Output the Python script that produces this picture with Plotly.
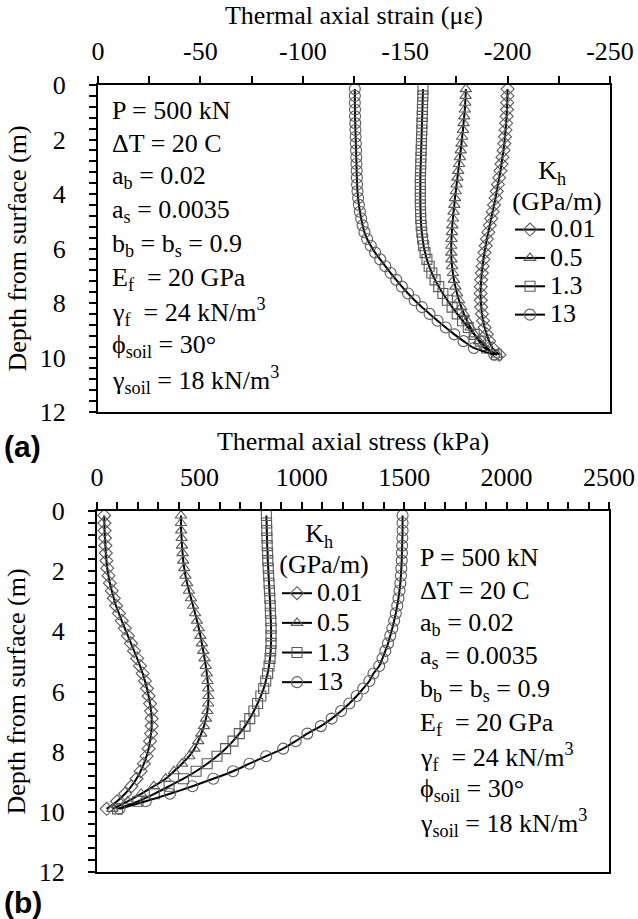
import plotly.graph_objects as go

W, H = 638, 919
SERIF = "Liberation Serif"
SANS = "Liberation Sans"

# ---------------- data ----------------
depth = [0.15, 0.40, 0.65, 0.90, 1.15, 1.40, 1.65, 1.90, 2.15, 2.40,
         2.65, 2.90, 3.15, 3.40, 3.65, 3.90, 4.15, 4.40, 4.65, 4.90,
         5.15, 5.40, 5.65, 5.90, 6.15, 6.40, 6.65, 6.90, 7.15, 7.40,
         7.65, 7.90, 8.15, 8.40, 8.65, 8.90, 9.15, 9.40, 9.65, 9.90]

kh_labels = ["0.01", "0.5", "1.3", "13"]

# thermal axial strain (micro-strain), panel (a)
strain_001 = [-200.0, -199.9, -199.8, -199.7, -199.5, -199.3, -199.0, -198.7, -198.4, -198.0,
              -197.5, -197.0, -196.5, -195.9, -195.3, -194.7, -194.1, -193.4, -192.7, -192.0,
              -191.3, -190.6, -189.9, -189.3, -188.7, -188.2, -187.8, -187.4, -187.1, -186.9,
              -186.8, -186.9, -187.1, -187.5, -188.0, -188.8, -189.8, -191.0, -192.6, -196.0]
strain_05 = [-179.6, -179.5, -179.3, -179.1, -178.8, -178.5, -178.2, -177.8, -177.5, -177.1,
             -176.7, -176.3, -175.9, -175.5, -175.1, -174.7, -174.3, -174.0, -173.6, -173.3,
             -173.0, -172.8, -172.6, -172.5, -172.5, -172.6, -172.9, -173.3, -173.8, -174.5,
             -175.3, -176.3, -177.4, -178.7, -180.2, -181.9, -183.8, -186.0, -188.7, -195.0]
strain_13 = [-158.7, -158.6, -158.5, -158.4, -158.3, -158.2, -158.1, -158.0, -157.9, -157.8,
             -157.7, -157.6, -157.5, -157.4, -157.4, -157.4, -157.4, -157.4, -157.5, -157.6,
             -157.8, -158.1, -158.5, -159.0, -159.7, -160.6, -161.7, -163.0, -164.6, -166.4,
             -168.4, -170.6, -172.9, -175.4, -178.0, -180.8, -183.7, -186.7, -189.8, -194.5]
strain_130 = [-125.4, -125.4, -125.4, -125.5, -125.5, -125.6, -125.7, -125.8, -125.9, -126.0,
              -126.1, -126.2, -126.3, -126.4, -126.5, -126.7, -127.0, -127.4, -127.9, -128.5,
              -129.2, -130.1, -131.4, -133.2, -135.3, -137.8, -140.3, -142.9, -145.6, -148.4,
              -151.4, -154.6, -158.1, -161.9, -165.8, -169.8, -174.0, -178.5, -183.5, -193.5]

# thermal axial stress (kPa), panel (b)
stress_001 = [35, 36, 37, 39, 41, 43, 46, 50, 56, 63,
              72, 82, 93, 107, 121, 136, 151, 166, 181, 196,
              210, 223, 234, 244, 252, 259, 264, 267, 267, 264,
              259, 252, 242, 229, 213, 193, 168, 137, 98, 47]
stress_05 = [410, 410, 411, 413, 415, 418, 421, 426, 432, 440,
             449, 459, 469, 479, 488, 497, 505, 512, 519, 525,
             531, 536, 540, 543, 544, 543, 539, 532, 522, 509,
             494, 476, 450, 415, 376, 335, 277, 215, 150, 75]
stress_13 = [827, 828, 829, 830, 831, 833, 834, 836, 838, 840,
             842, 844, 846, 847, 849, 850, 850, 850, 848, 845,
             840, 833, 824, 814, 800, 784, 766, 746, 723, 695,
             664, 628, 586, 538, 484, 422, 352, 280, 200, 100]
stress_130 = [1492, 1492, 1492, 1491, 1490, 1489, 1488, 1486, 1484, 1481,
              1477, 1472, 1466, 1459, 1451, 1442, 1432, 1421, 1408, 1394,
              1378, 1350, 1330, 1300, 1268, 1232, 1192, 1146, 1093, 1027,
              970, 909, 826, 744, 664, 568, 466, 356, 238, 110]

strain_ticks = [0, -50, -100, -150, -200, -250]
strain_tick_labels = ["0", "-50", "-100", "-150", "-200", "-250"]
stress_ticks = [0, 500, 1000, 1500, 2000, 2500]
stress_tick_labels = ["0", "500", "1000", "1500", "2000", "2500"]
depth_ticks = [0, 2, 4, 6, 8, 10, 12]
depth_tick_labels = ["0", "2", "4", "6", "8", "10", "12"]

param_lines = [
    "P = 500 kN",
    "ΔT = 20 C",
    "a<sub>b</sub> = 0.02",
    "a<sub>s</sub> = 0.0035",
    "b<sub>b</sub> = b<sub>s</sub> = 0.9",
    "E<sub>f</sub>  = 20 GPa",
    "γ<sub>f</sub>  = 24 kN/m<sup>3</sup>",
    "ϕ<sub>soil</sub> = 30°",
    "γ<sub>soil</sub> = 18 kN/m<sup>3</sup>",
]

# ---------------- styling ----------------
symbols = ["diamond-open", "triangle-up-open", "square-open", "circle-open"]
msize = [10, 10, 10, 11]
MCOL = "#5a5a5a"
FS = 26

fig = go.Figure()

top_series = [strain_001, strain_05, strain_13, strain_130]
bot_series = [stress_001, stress_05, stress_13, stress_130]

for i, s in enumerate(top_series):
    fig.add_trace(go.Scatter(
        x=s, y=depth, xaxis="x", yaxis="y", mode="lines+markers",
        name=f"<span style='font-size:{FS}px'>{kh_labels[i]}</span>",
        legend="legend",
        line=dict(color="black", width=2, shape="spline", smoothing=0.6),
        marker=dict(symbol=symbols[i], size=msize[i], color=MCOL,
                    line=dict(width=1.1, color=MCOL)),
    ))
for i, s in enumerate(bot_series):
    fig.add_trace(go.Scatter(
        x=s, y=depth, xaxis="x2", yaxis="y2", mode="lines+markers",
        name=f"<span style='font-size:{FS}px'>{kh_labels[i]}</span>",
        legend="legend2",
        line=dict(color="black", width=2, shape="spline", smoothing=0.6),
        marker=dict(symbol=symbols[i], size=msize[i], color=MCOL,
                    line=dict(width=1.1, color=MCOL)),
    ))

def px_x(p):
    return p / W

def px_y(p):
    return 1 - p / H

tickfont = dict(family=SERIF, size=FS, color="black")
titlefont = dict(family=SERIF, size=FS, color="black")

def xaxis_cfg(domain, anchor, rng, tv, tt, minor_dt, title):
    return dict(
        domain=domain, anchor=anchor, side="top", range=rng,
        tickmode="array", tickvals=tv, ticktext=tt,
        ticks="outside", ticklen=7, tickwidth=1.5, tickcolor="black",
        minor=dict(dtick=minor_dt, tick0=0, ticks="outside", ticklen=7,
                   tickwidth=1.5, tickcolor="black", showgrid=False),
        showline=True, linecolor="black", linewidth=2, mirror=True,
        showgrid=False, zeroline=False, automargin=False,
        tickfont=tickfont, ticklabelstandoff=6,
        title=dict(text=title, font=titlefont, standoff=4),
    )

def yaxis_cfg(domain, anchor):
    return dict(
        domain=domain, anchor=anchor, range=[12, 0],
        tickmode="array", tickvals=depth_ticks, ticktext=depth_tick_labels,
        ticks="outside", ticklen=7, tickwidth=1.5, tickcolor="black",
        minor=dict(dtick=0.4, tick0=0, ticks="outside", ticklen=7,
                   tickwidth=1.5, tickcolor="black", showgrid=False),
        showline=True, linecolor="black", linewidth=2, mirror=True,
        showgrid=False, zeroline=False, automargin=False,
        tickfont=tickfont, ticklabelstandoff=18,
        title=dict(text="Depth from surface (m)", font=titlefont, standoff=6),
    )

xdom_top = [px_x(98), px_x(610)]
xdom_bot = [px_x(97), px_x(609)]
ydom_top = [px_y(412), px_y(85)]
ydom_bot = [px_y(872), px_y(511)]

legend_title = (f"<span style='font-size:{FS}px'>&nbsp;&nbsp;&nbsp;&nbsp;K<sub>h</sub></span><br>"
                f"<span style='font-size:{FS}px'>(GPa/m)</span>")

def legend_cfg(x_px, y_px, fsize):
    return dict(
        x=px_x(x_px), y=px_y(y_px),
        xanchor="left", yanchor="top", bgcolor="rgba(0,0,0,0)", borderwidth=0,
        font=dict(family=SERIF, size=fsize, color="black"),
        itemwidth=30, tracegroupgap=0, itemclick=False, itemdoubleclick=False,
        title=dict(text=legend_title, side="top center",
                   font=dict(family=SERIF, size=24, color="black")),
    )

fig.update_layout(
    width=W, height=H,
    margin=dict(l=0, r=0, t=0, b=0),
    paper_bgcolor="white", plot_bgcolor="white",
    xaxis=xaxis_cfg(xdom_top, "y", [0, -250], strain_ticks, strain_tick_labels, 25,
                    "Thermal axial strain (με)"),
    yaxis=yaxis_cfg(ydom_top, "x"),
    xaxis2=xaxis_cfg(xdom_bot, "y2", [0, 2500], stress_ticks, stress_tick_labels, 100,
                     "Thermal axial stress (kPa)"),
    yaxis2=yaxis_cfg(ydom_bot, "x2"),
    legend=legend_cfg(510, 148, 19.5),
    legend2=legend_cfg(277, 511, 20.5),
    showlegend=True,
)

def add_params(x_px, y0_px, dy_px):
    for i, t in enumerate(param_lines):
        fig.add_annotation(
            x=px_x(x_px), y=px_y(y0_px + i * dy_px), xref="paper", yref="paper",
            xanchor="left", yanchor="middle", text=t, showarrow=False,
            font=dict(family=SERIF, size=FS, color="black"),
        )

add_params(110, 110, 33.7)
add_params(418, 557, 33.3)

for lab, ypx in [("(a)", 446), ("(b)", 902)]:
    fig.add_annotation(
        x=px_x(2), y=px_y(ypx), xref="paper", yref="paper",
        xanchor="left", yanchor="middle", text=f"<b>{lab}</b>", showarrow=False,
        font=dict(family=SANS, size=30, color="black"),
    )

fig.write_html("out.html")
